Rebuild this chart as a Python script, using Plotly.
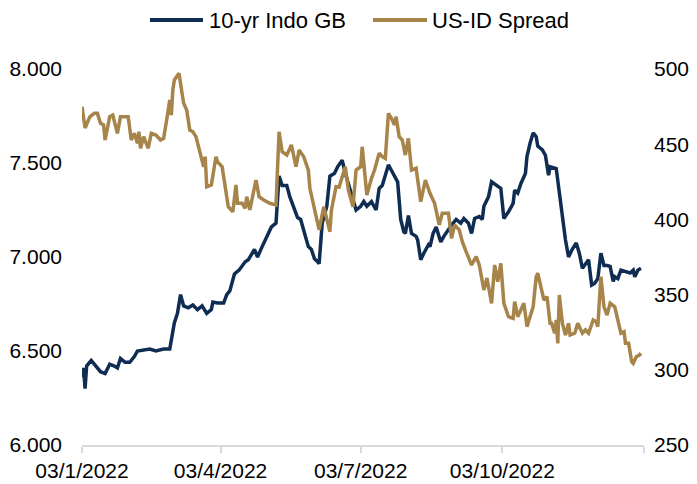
import plotly.graph_objects as go

# 10-yr Indonesia government bond yield (%), left axis
gb_dates = [
    "2022-01-03", "2022-01-04", "2022-01-05", "2022-01-06", "2022-01-09", "2022-01-12", "2022-01-15",
    "2022-01-18", "2022-01-21", "2022-01-24", "2022-01-26", "2022-01-28", "2022-01-31", "2022-02-03",
    "2022-02-06", "2022-02-08", "2022-02-13", "2022-02-16", "2022-02-20", "2022-02-22", "2022-02-25",
    "2022-03-01", "2022-03-04", "2022-03-06", "2022-03-08", "2022-03-10", "2022-03-13", "2022-03-16",
    "2022-03-19", "2022-03-22", "2022-03-25", "2022-03-28", "2022-03-29", "2022-04-01", "2022-04-05",
    "2022-04-07", "2022-04-09", "2022-04-12", "2022-04-15", "2022-04-19", "2022-04-21", "2022-04-25",
    "2022-04-27", "2022-04-30", "2022-05-03", "2022-05-06", "2022-05-09", "2022-05-11", "2022-05-13",
    "2022-05-16", "2022-05-18", "2022-05-22", "2022-05-23", "2022-05-25", "2022-05-28", "2022-05-30",
    "2022-06-01", "2022-06-03", "2022-06-05", "2022-06-06", "2022-06-08", "2022-06-11", "2022-06-13",
    "2022-06-16", "2022-06-18", "2022-06-21", "2022-06-23", "2022-06-25", "2022-06-28", "2022-06-30",
    "2022-07-03", "2022-07-05", "2022-07-07", "2022-07-10", "2022-07-13", "2022-07-15", "2022-07-17",
    "2022-07-19", "2022-07-21", "2022-07-23", "2022-07-26", "2022-07-27", "2022-07-29", "2022-07-31",
    "2022-08-01", "2022-08-03", "2022-08-05", "2022-08-08", "2022-08-09", "2022-08-11", "2022-08-13",
    "2022-08-16", "2022-08-17", "2022-08-19", "2022-08-21", "2022-08-24", "2022-08-26", "2022-08-29",
    "2022-08-31", "2022-09-03", "2022-09-06", "2022-09-08", "2022-09-11", "2022-09-13", "2022-09-15",
    "2022-09-18", "2022-09-20", "2022-09-21", "2022-09-24", "2022-09-26", "2022-09-29", "2022-10-02",
    "2022-10-04", "2022-10-07", "2022-10-10", "2022-10-11", "2022-10-13", "2022-10-15", "2022-10-18",
    "2022-10-19", "2022-10-21", "2022-10-23", "2022-10-25", "2022-10-26", "2022-10-29", "2022-10-31",
    "2022-11-02", "2022-11-03", "2022-11-07", "2022-11-09", "2022-11-11", "2022-11-13", "2022-11-15",
    "2022-11-17", "2022-11-20", "2022-11-22", "2022-11-24", "2022-11-28", "2022-11-30", "2022-12-02",
    "2022-12-04", "2022-12-06", "2022-12-08", "2022-12-10", "2022-12-12", "2022-12-14", "2022-12-15",
    "2022-12-17", "2022-12-19", "2022-12-22", "2022-12-25", "2022-12-27", "2022-12-28", "2022-12-30",
    "2023-01-01",
]
gb_yield = [
    6.36, 6.41, 6.30, 6.42, 6.45, 6.42, 6.39,
    6.38, 6.43, 6.42, 6.41, 6.46, 6.44, 6.44,
    6.47, 6.50, 6.505, 6.51, 6.50, 6.505, 6.51,
    6.51, 6.65, 6.70, 6.80, 6.74, 6.73, 6.745,
    6.72, 6.74, 6.70, 6.72, 6.76, 6.755, 6.755,
    6.80, 6.82, 6.91, 6.93, 6.975, 6.985, 7.04,
    7.00, 7.055, 7.11, 7.16, 7.18, 7.43, 7.38,
    7.38, 7.32, 7.23, 7.21, 7.20, 7.11, 7.055,
    7.04, 6.99, 6.975, 6.965, 7.18, 7.27, 7.43,
    7.445, 7.48, 7.515, 7.445, 7.39, 7.30, 7.25,
    7.27, 7.295, 7.27, 7.295, 7.25, 7.365, 7.38,
    7.435, 7.49, 7.46, 7.42, 7.40, 7.20, 7.135,
    7.125, 7.22, 7.125, 7.11, 7.09, 6.985, 7.02,
    7.065, 7.055, 7.125, 7.16, 7.08, 7.11, 7.15,
    7.17, 7.20, 7.18, 7.205, 7.18, 7.125, 7.205,
    7.215, 7.20, 7.27, 7.32, 7.40, 7.38, 7.365,
    7.205, 7.24, 7.285, 7.355, 7.34, 7.39, 7.445,
    7.535, 7.605, 7.66, 7.64, 7.59, 7.57, 7.54,
    7.435, 7.48, 7.47, 7.33, 7.20, 7.09, 7.00,
    7.035, 7.075, 7.02, 6.94, 6.985, 6.85, 6.86,
    6.885, 7.02, 6.955, 6.955, 6.95, 6.87, 6.895,
    6.885, 6.93, 6.92, 6.915, 6.93, 6.895, 6.93,
    6.94,
]

# US-ID spread (bp), right axis
spread_dates = [
    "2022-01-03", "2022-01-05", "2022-01-08", "2022-01-11", "2022-01-13", "2022-01-15", "2022-01-17",
    "2022-01-18", "2022-01-21", "2022-01-23", "2022-01-26", "2022-01-28", "2022-02-02", "2022-02-04",
    "2022-02-06", "2022-02-08", "2022-02-09", "2022-02-10", "2022-02-12", "2022-02-15", "2022-02-17",
    "2022-02-20", "2022-02-23", "2022-02-25", "2022-02-27", "2022-03-01", "2022-03-02", "2022-03-03",
    "2022-03-04", "2022-03-06", "2022-03-07", "2022-03-10", "2022-03-12", "2022-03-14", "2022-03-16",
    "2022-03-18", "2022-03-21", "2022-03-23", "2022-03-24", "2022-03-25", "2022-03-28", "2022-03-31",
    "2022-04-01", "2022-04-04", "2022-04-06", "2022-04-08", "2022-04-11", "2022-04-13", "2022-04-14",
    "2022-04-17", "2022-04-19", "2022-04-20", "2022-04-22", "2022-04-24", "2022-04-26", "2022-04-28",
    "2022-05-01", "2022-05-05", "2022-05-09", "2022-05-11", "2022-05-13", "2022-05-16", "2022-05-19",
    "2022-05-22", "2022-05-24", "2022-05-27", "2022-05-30", "2022-05-31", "2022-06-02", "2022-06-06",
    "2022-06-09", "2022-06-13", "2022-06-14", "2022-06-17", "2022-06-19", "2022-06-23", "2022-06-25",
    "2022-06-28", "2022-06-30", "2022-07-03", "2022-07-04", "2022-07-07", "2022-07-10", "2022-07-12",
    "2022-07-15", "2022-07-17", "2022-07-19", "2022-07-21", "2022-07-23", "2022-07-25", "2022-07-26",
    "2022-07-28", "2022-07-30", "2022-08-01", "2022-08-03", "2022-08-05", "2022-08-08", "2022-08-11",
    "2022-08-14", "2022-08-17", "2022-08-20", "2022-08-23", "2022-08-25", "2022-08-29", "2022-08-31",
    "2022-09-02", "2022-09-05", "2022-09-07", "2022-09-09", "2022-09-13", "2022-09-16", "2022-09-18",
    "2022-09-21", "2022-09-23", "2022-09-26", "2022-09-28", "2022-09-30", "2022-10-02", "2022-10-04",
    "2022-10-07", "2022-10-10", "2022-10-11", "2022-10-13", "2022-10-17", "2022-10-19", "2022-10-21",
    "2022-10-23", "2022-10-25", "2022-10-26", "2022-10-28", "2022-10-30", "2022-11-01", "2022-11-03",
    "2022-11-04", "2022-11-06", "2022-11-07", "2022-11-08", "2022-11-09", "2022-11-11", "2022-11-13",
    "2022-11-15", "2022-11-16", "2022-11-19", "2022-11-21", "2022-11-24", "2022-11-26", "2022-11-28",
    "2022-12-01", "2022-12-03", "2022-12-04", "2022-12-06", "2022-12-08", "2022-12-10", "2022-12-12",
    "2022-12-15", "2022-12-17", "2022-12-19", "2022-12-21", "2022-12-22", "2022-12-24", "2022-12-26",
    "2022-12-27", "2022-12-29", "2022-12-31", "2023-01-01",
]
spread_bp = [
    474.9, 460.8, 468.1, 470.5, 470.5, 463.9, 462.8,
    452.8, 468.3, 469.4, 457.2, 468.3, 468.3, 452.8,
    457.2, 450.6, 458.3, 447.3, 455.0, 447.3, 457.2,
    456.1, 452.8, 453.9, 466.1, 479.4, 469.4, 486.0,
    492.7, 496.0, 497.1, 477.2, 472.7, 459.4, 458.3,
    455.0, 441.7, 435.0, 441.7, 421.7, 422.9, 441.7,
    438.4, 435.0, 421.7, 408.4, 405.1, 422.9, 410.7,
    410.7, 407.4, 415.1, 406.3, 417.4, 426.2, 415.1,
    412.9, 410.7, 409.6, 458.3, 445.0, 442.8, 449.5,
    435.0, 446.1, 441.7, 432.8, 420.7, 410.7, 393.0,
    408.4, 391.8, 406.3, 421.7, 421.5, 435.0, 419.5,
    408.4, 432.8, 435.0, 448.3, 416.2, 427.3, 432.8,
    444.0, 441.7, 440.6, 470.5, 467.2, 462.8, 468.3,
    455.0, 452.8, 442.8, 453.9, 432.8, 434.0, 411.8,
    426.2, 417.4, 410.7, 396.3, 404.1, 404.1, 387.4,
    396.3, 393.0, 385.2, 379.7, 369.7, 375.2, 369.7,
    353.1, 361.0, 344.2, 369.7, 358.6, 370.8, 344.2,
    335.3, 334.2, 345.3, 335.3, 344.2, 328.7, 335.3,
    341.9, 361.9, 364.2, 355.3, 346.4, 348.6, 330.9,
    330.9, 324.3, 333.1, 317.6, 349.7, 330.9, 323.1,
    330.9, 323.1, 324.3, 330.9, 324.3, 326.5, 324.3,
    333.1, 332.0, 328.7, 361.9, 341.9, 336.4, 344.2,
    341.9, 333.1, 324.3, 325.3, 317.6, 317.6, 305.4,
    304.3, 308.7, 309.8, 311.0,
]

series_names = ["10-yr Indo GB", "US-ID Spread"]
x_tick_vals = ["2022-01-03", "2022-04-03", "2022-07-03", "2022-10-03", "2023-01-03"]
x_tick_text = ["03/1/2022", "03/4/2022", "03/7/2022", "03/10/2022", ""]
left_ticks = [6.0, 6.5, 7.0, 7.5, 8.0]
right_ticks = [250, 300, 350, 400, 450, 500]

NAVY = "#0F2D52"
GOLD = "#A6844A"
FONT = "Liberation Sans, Arial, sans-serif"

fig = go.Figure()
fig.add_trace(go.Scatter(x=gb_dates, y=gb_yield, name=series_names[0], mode="lines",
                         line=dict(color=NAVY, width=3.5), yaxis="y"))
fig.add_trace(go.Scatter(x=spread_dates, y=spread_bp, name=series_names[1], mode="lines",
                         line=dict(color=GOLD, width=3.5), yaxis="y2"))

# Custom legend (longer line swatches, as in the original)
legend_y = 1.1303
for (x0, x1, xt), name, col in zip([(0.121, 0.2153, 0.2242), (0.5178, 0.6139, 0.6210)],
                                   series_names, [NAVY, GOLD]):
    fig.add_shape(type="line", xref="paper", yref="paper", x0=x0, x1=x1, y0=legend_y, y1=legend_y,
                  line=dict(color=col, width=4))
    fig.add_annotation(xref="paper", yref="paper", x=xt, y=legend_y, text=name, showarrow=False,
                       xanchor="left", yanchor="middle", borderpad=0,
                       font=dict(size=22, color="#000000"))

# The page body adds an 8px offset, so the figure is sized to fit inside the window.
fig.update_layout(
    width=689, height=476,
    margin=dict(l=74, r=53, t=61, b=39),
    paper_bgcolor="white", plot_bgcolor="white",
    font=dict(family=FONT, size=21, color="#000000"),
    showlegend=False,
    xaxis=dict(type="date", range=["2022-01-03", "2023-01-03"],
               tickvals=x_tick_vals, ticktext=x_tick_text, automargin=False,
               showgrid=False, zeroline=False, showline=True, linecolor="#D9D9D9", linewidth=1.5,
               ticks="outside", ticklen=6, tickcolor="#D9D9D9", tickwidth=1.5),
    yaxis=dict(range=[6.0, 8.0], tickvals=left_ticks, tickformat=".3f", automargin=False,
               showgrid=False, zeroline=False, showline=False, ticks="", ticklabelstandoff=19),
    yaxis2=dict(range=[250, 500], tickvals=right_ticks, overlaying="y", side="right", automargin=False,
                showgrid=False, zeroline=False, showline=False, ticks="", ticklabelstandoff=9),
)

fig.write_html("out.html")
